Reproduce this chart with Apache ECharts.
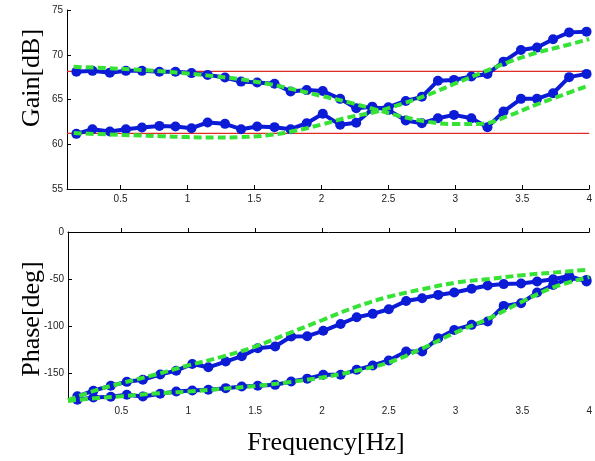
<!DOCTYPE html>
<html>
<head>
<meta charset="utf-8">
<script src="https://cdn.jsdelivr.net/npm/echarts@6/dist/echarts.min.js"></script>
<style>html,body{margin:0;padding:0;background:#fff}#c{width:595px;height:461px}</style>
</head>
<body>
<div id="c"></div>
<script>
// ---- data ----
var freq = [0.17,0.29,0.42,0.54,0.66,0.79,0.91,1.03,1.15,1.28,1.40,1.52,1.65,1.77,1.89,2.01,2.14,2.26,2.38,2.50,2.63,2.75,2.87,2.99,3.12,3.24,3.36,3.49,3.61,3.73,3.85,3.98];
var gainA = [68.1,68.2,68.0,68.2,68.2,68.1,68.1,67.95,67.75,67.45,67.0,66.9,66.75,65.9,66.05,65.95,65.07,64.03,64.2,63.84,62.65,62.35,62.9,63.28,62.9,61.9,63.65,65.07,65.07,65.7,67.5,67.86];
var gainB = [61.16,61.68,61.42,61.68,61.87,62.05,61.98,61.79,62.43,62.28,61.68,61.98,61.91,61.68,62.35,63.4,62.17,62.4,63.95,64.14,64.84,65.3,67.1,67.19,67.56,67.86,69.23,70.54,70.8,71.73,72.5,72.58];
var phaseA = [-175,-169,-163.8,-159.6,-157.4,-151.7,-147.7,-140.6,-144.1,-138,-132.3,-123.8,-122,-111.3,-111,-105.2,-97.9,-90.8,-87.2,-82.3,-73.4,-70.6,-67,-64.5,-60.4,-56.9,-55.5,-54.9,-52.8,-50.3,-46.8,-52.8];
var phaseB = [-178.7,-176.3,-175.5,-173.4,-175.2,-172.3,-169.9,-168.8,-168,-166.3,-164.6,-163.8,-162.8,-159.2,-156.2,-152.1,-152.1,-146.8,-142.2,-136.9,-127.3,-127.3,-113.1,-104.3,-98.9,-95.4,-78.7,-75.9,-64.5,-56.4,-49.3,-51];

var fitFreqTop = [0.15,0.4,0.6,0.8,1.0,1.2,1.4,1.6,1.8,2.0,2.2,2.4,2.6,2.8,3.0,3.2,3.4,3.6,3.8,4.0];
var fitGainA = [68.65,68.5,68.35,68.15,67.9,67.6,67.25,66.75,66.1,65.4,64.7,63.9,63.1,62.5,62.25,62.3,63.2,64.4,65.5,66.6];
var fitGainB = [61.25,61.1,61.0,60.9,60.8,60.75,60.8,61.0,61.5,62.2,63.0,63.6,64.5,65.55,66.8,68.0,69.2,70.2,70.95,71.75];
var fitFreqBot = [0.1,0.3,0.5,0.75,1.0,1.25,1.5,1.75,2.0,2.25,2.5,2.75,3.0,3.25,3.5,3.75,4.0];
var fitPhaseA = [-179,-169,-161,-152,-142,-133,-122,-108,-94,-80,-69,-61,-54,-50,-46,-43,-40];
var fitPhaseB = [-180,-177,-175,-172,-170,-167,-164,-160,-155,-148,-139,-124,-107,-92,-74,-58,-48];

var refLevels = [68.15, 61.22];
var xRange = [0.1, 4];
var xTicks = [0.5,1,1.5,2,2.5,3,3.5,4];
var gainTicks = [55,60,65,70,75];
var phaseTicks = [-150,-100,-50,0];

// ---- build ----
function pairs(xs, ys){ return xs.map(function(x,i){ return [x, ys[i]]; }); }
var BLUE = '#0b1bd6', GREEN = '#35e235', RED = '#e02a24';
var labelStyle = {color:'#222', fontSize:10, fontFamily:'Liberation Sans, Arial, sans-serif'};

function xAxis(gi){
  return {type:'value', gridIndex:gi, min:xRange[0], max:xRange[1],
    axisLine:{lineStyle:{color:'#000', width:1}},
    axisTick:{inside:true, length:4, customValues:xTicks, lineStyle:{color:'#000'}},
    axisLabel:Object.assign({customValues:xTicks, margin:5, formatter:function(v){return String(v);}}, labelStyle),
    splitLine:{show:false}};
}
function yAxis(gi, mn, mx, ticks){
  return {type:'value', gridIndex:gi, min:mn, max:mx,
    axisLine:{show:true, lineStyle:{color:'#000', width:1}},
    axisTick:{show:true, inside:true, length:4, customValues:ticks, lineStyle:{color:'#000'}},
    axisLabel:Object.assign({customValues:ticks, margin:4, formatter:function(v){return String(v);}}, labelStyle),
    splitLine:{show:false}};
}
function blue(xi, ys){
  return {type:'line', xAxisIndex:xi, yAxisIndex:xi, data:pairs(freq, ys), symbol:'circle', symbolSize:10,
    itemStyle:{color:BLUE}, lineStyle:{color:BLUE, width:4}, z:3, animation:false};
}
function green(xi, xs, ys){
  return {type:'line', xAxisIndex:xi, yAxisIndex:xi, data:pairs(xs, ys), smooth:0.4, showSymbol:false, symbol:'none',
    lineStyle:{color:GREEN, width:4, type:[8,4]}, z:5, animation:false};
}
function red(level){
  return {type:'line', xAxisIndex:0, yAxisIndex:0, data:[[xRange[0],level],[xRange[1],level]], symbol:'none',
    lineStyle:{color:RED, width:1.3}, z:2, animation:false};
}

var chart = echarts.init(document.getElementById('c'), null, {renderer:'canvas'});
var titleFont = '26px "Liberation Serif", "Times New Roman", serif';
chart.setOption({
  backgroundColor:'#fff',
  animation:false,
  grid:[{left:67, right:5, top:10, height:179}, {left:68, right:4, top:232, height:169}],
  xAxis:[xAxis(0), xAxis(1)],
  yAxis:[yAxis(0, gainTicks[0], gainTicks[gainTicks.length-1], gainTicks), yAxis(1, -180, 0, phaseTicks)],
  series:[
    red(refLevels[0]), red(refLevels[1]),
    blue(0, gainA), blue(0, gainB),
    green(0, fitFreqTop, fitGainA), green(0, fitFreqTop, fitGainB),
    blue(1, phaseA), blue(1, phaseB),
    green(1, fitFreqBot, fitPhaseA), green(1, fitFreqBot, fitPhaseB)
  ],
  graphic:[
    {type:'text', x:32, y:78, rotation:Math.PI/2, style:{text:'Gain[dB]', font:titleFont, fill:'#000', align:'center', verticalAlign:'middle'}},
    {type:'text', x:32, y:319, rotation:Math.PI/2, style:{text:'Phase[deg]', font:titleFont, fill:'#000', align:'center', verticalAlign:'middle'}},
    {type:'text', x:326, y:443, style:{text:'Frequency[Hz]', font:titleFont, fill:'#000', align:'center', verticalAlign:'middle'}}
  ]
});
</script>
</body>
</html>
